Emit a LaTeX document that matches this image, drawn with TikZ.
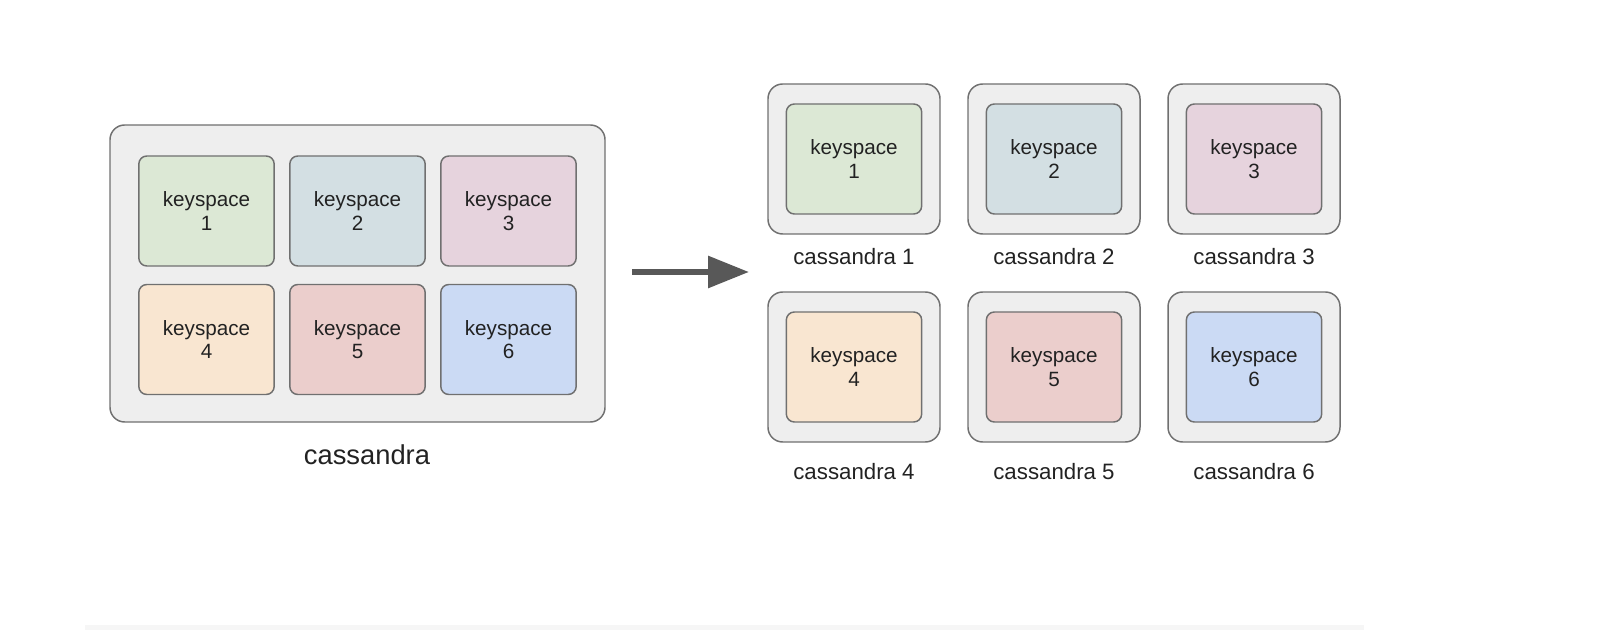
\documentclass[tikz,border=0pt]{standalone}
\usepackage{fontspec}
\setmainfont{Liberation Sans}
\usetikzlibrary{arrows.meta}
\definecolor{boxgray}{RGB}{238,238,238}
\definecolor{edgegray}{RGB}{112,112,112}
\definecolor{textgray}{RGB}{34,34,34}
\definecolor{arrowgray}{RGB}{88,88,88}
\definecolor{ksgreen}{RGB}{220,232,213}
\definecolor{ksteal}{RGB}{211,223,227}
\definecolor{kspink}{RGB}{230,211,221}
\definecolor{ksorange}{RGB}{249,230,209}
\definecolor{ksred}{RGB}{235,206,204}
\definecolor{ksblue}{RGB}{203,218,244}
\tikzset{
  cluster/.style={draw=edgegray, fill=boxgray, line width=1.1pt, rounded corners=11pt, inner sep=0pt},
  keybox/.style={draw=edgegray, line width=1.1pt, rounded corners=6pt, inner sep=0pt,
    minimum width=101.5pt, minimum height=82.5pt, align=center, text=textgray,
    font=\fontsize{15.5}{17.5}\selectfont},
  hostbox/.style={cluster, minimum width=129pt, minimum height=112.5pt},
  hostlabel/.style={text=textgray, inner sep=0.75pt, font=\fontsize{16.7}{19}\selectfont},
}
\begin{document}
\begin{tikzpicture}[x=0.75pt,y=0.75pt,yscale=-1,xscale=1]
\useasboundingbox (0,0) rectangle (1608,630);

%Shape: faint strip at the bottom
\fill [color={rgb, 255:red, 246; green, 246; blue, 246 }] (85,625) rectangle (1364,630);

%Shape: single cluster
\node [cluster, minimum width=371.25pt, minimum height=222.75pt] (cluster) at (357.5,273.5) {};
\node [keybox, fill=ksgreen]  (ks1) at (206.5,211) {keyspace\\1};
\node [keybox, fill=ksteal]   (ks2) at (357.5,211) {keyspace\\2};
\node [keybox, fill=kspink]   (ks3) at (508.5,211) {keyspace\\3};
\node [keybox, fill=ksorange] (ks4) at (206.5,339.5) {keyspace\\4};
\node [keybox, fill=ksred]    (ks5) at (357.5,339.5) {keyspace\\5};
\node [keybox, fill=ksblue]   (ks6) at (508.5,339.5) {keyspace\\6};
% Text Node
\node [text=textgray, font=\fontsize{20.5}{24}\selectfont] (clusterlabel) at (367,455) {cassandra};

%Straight Lines: split arrow
\coordinate (arrowstart) at (632,272);
\coordinate (arrowend) at (749,272);
\draw [arrowgray, line width=4.5pt, -{Triangle[length=30.75pt, width=23.25pt]}] (arrowstart) -- (arrowend);

%Shape: one cluster per keyspace
\node [hostbox] (host1) at (854,159) {};
\node [hostbox] (host2) at (1054,159) {};
\node [hostbox] (host3) at (1254,159) {};
\node [hostbox] (host4) at (854,367) {};
\node [hostbox] (host5) at (1054,367) {};
\node [hostbox] (host6) at (1254,367) {};
\node [keybox, fill=ksgreen]  (hks1) at (host1) {keyspace\\1};
\node [keybox, fill=ksteal]   (hks2) at (host2) {keyspace\\2};
\node [keybox, fill=kspink]   (hks3) at (host3) {keyspace\\3};
\node [keybox, fill=ksorange] (hks4) at (host4) {keyspace\\4};
\node [keybox, fill=ksred]    (hks5) at (host5) {keyspace\\5};
\node [keybox, fill=ksblue]   (hks6) at (host6) {keyspace\\6};

% Text Node
\node [hostlabel] (hostlabel1) at (854,257) {cassandra 1};
\node [hostlabel] (hostlabel2) at (1054,257) {cassandra 2};
\node [hostlabel] (hostlabel3) at (1254,257) {cassandra 3};
\node [hostlabel] (hostlabel4) at (854,472) {cassandra 4};
\node [hostlabel] (hostlabel5) at (1054,472) {cassandra 5};
\node [hostlabel] (hostlabel6) at (1254,472) {cassandra 6};

\end{tikzpicture}
\end{document}
